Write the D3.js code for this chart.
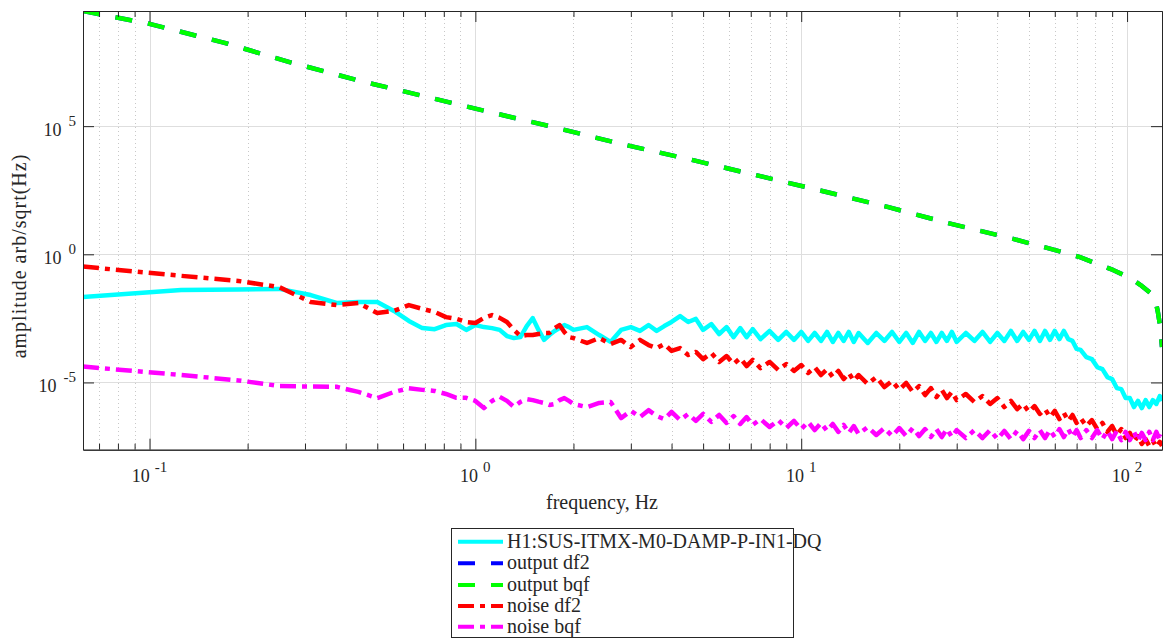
<!DOCTYPE html>
<html><head><meta charset="utf-8">
<script src="https://cdn.jsdelivr.net/npm/d3@7"></script>
<style>
body{margin:0;background:#fff;}
svg{display:block;}
text{font-family:"Liberation Serif","Times New Roman",serif;fill:#262626;}
</style>
</head><body>
<svg id="c" width="1169" height="640"></svg>
<script>
// ---- data (amplitudes stored as log10 exponents) ----
const freq = [0.0625,0.125,0.1875,0.25,0.3125,0.375,0.4375,0.5,0.5625,0.625,0.6875,0.75,0.8125,0.875,0.9375,1,1.0625,1.125,1.1875,1.25,1.3125,1.375,1.4375,1.5,1.5625,1.625,1.6875,1.75,1.8125,1.875,1.9375,2,
2.2,2.4,2.6,2.8,3,3.2,3.4,3.6,3.8,4,4.25,4.5,4.75,5,5.3,5.6,5.9,6.2,6.5,6.8,7.1,7.5,8,8.5,9,9.5,10,10.5,11,11.5,12,12.5,13,13.5,14,14.5,15,16,17,18,19,20,21,22,23,24,25,26,27,28,29,30,32,34,36,38,40,42,44,46,48,50,52,54,56,58,60,62,64,66,68,70,72,75,78,81,84,87,90,93,96,99,102,105,108,111,114,117,120,123,126,128];

const dqExp = [-1.67,-1.39,-1.37,-1.35,-1.59,-1.90,-1.86,-1.86,-2.21,-2.60,-2.88,-2.92,-2.76,-2.72,-2.95,-2.76,-2.84,-2.88,-2.95,-3.19,-3.27,-3.23,-2.80,-2.49,-2.95,-3.34,-3.15,-2.99,-2.88,-2.76,-2.84,-2.95,
-2.84,-3.15,-3.42,-2.95,-2.84,-2.99,-2.76,-2.99,-2.80,
-2.64,-2.41,-2.64,-2.52,
-2.95,-2.72,-3.11,-2.84,-3.23,-2.88,-3.23,-2.92,-3.31,
-2.99,-3.34,-3.03,-3.34,
-3.03,-3.38,-3.07,-3.38,-3.03,-3.42,-3.07,-3.38,-3.03,-3.42,-3.07,
-3.46,-3.07,-3.38,-3.03,-3.42,-3.07,-3.46,-3.03,-3.38,-3.07,-3.42,-3.07,-3.38,-3.03,-3.42,
-3.07,-3.38,-3.03,-3.42,-3.07,-3.38,-2.99,-3.38,-3.03,-3.34,-2.99,-3.38,-2.99,-3.34,-2.99,-3.31,-2.99,-3.31,-3.38,-3.69,-3.73,
-4.01,-4.09,-4.40,-4.48,-4.79,-4.87,-5.22,-5.26,-5.61,-5.61,-5.96,-5.72,-6.00,-5.69,-5.96,-5.69,-5.84,-5.53,
-5.72];

const noiseDf2Exp = [-0.48,-0.84,-1.04,-1.28,-1.86,-1.98,-1.90,-2.29,-2.21,-1.98,-2.13,-2.25,-2.45,-2.52,-2.64,-2.68,-2.48,-2.37,-2.48,-2.64,-2.95,-3.19,-3.15,-3.15,-3.11,-3.07,-3.07,-2.88,-2.76,-3.03,-3.23,-3.27,
-3.46,-3.27,-3.50,-3.34,-3.62,-3.34,-3.54,-3.66,-3.50,
-3.77,-3.66,-3.93,-3.81,
-4.09,-3.85,-4.20,-3.97,-4.28,-4.05,-4.36,-4.12,-4.44,
-4.20,-4.51,-4.28,-4.55,
-4.32,-4.63,-4.40,-4.71,-4.48,-4.79,-4.55,-4.87,-4.63,-4.94,-4.71,
-5.06,-4.79,-5.18,-4.94,-5.29,-5.02,-5.37,-5.14,-5.49,-5.22,-5.57,-5.29,-5.61,-5.37,-5.69,
-5.45,-5.76,-5.53,-5.84,-5.61,-5.96,-5.72,-6.04,-5.84,-6.15,-5.92,-6.23,-6.04,-6.35,-6.11,-6.43,-6.19,-6.50,-6.27,-6.58,-6.39,
-6.70,-6.47,-6.82,-6.58,-6.93,-6.70,-7.05,-6.82,-7.17,-6.97,-7.32,-7.09,-7.40,-7.21,-7.48,-7.28,-7.52,-7.32,
-7.48];

const noiseBqfExp = [-4.38,-4.71,-4.92,-5.14,-5.16,-5.17,-5.37,-5.61,-5.37,-5.23,-5.29,-5.33,-5.45,-5.60,-5.60,-5.72,-6.00,-5.72,-5.56,-5.72,-5.95,-5.76,-5.65,-5.69,-5.75,-5.80,-5.88,-5.84,-5.69,-5.61,-5.72,-5.84,
-5.96,-5.80,-5.76,-6.39,-6.11,-6.35,-6.08,-6.31,-6.43,
-6.15,-6.47,-6.23,-6.50,
-6.23,-6.54,-6.27,-6.58,-6.31,-6.62,-6.35,-6.66,-6.43,
-6.74,-6.47,-6.78,-6.50,
-6.82,-6.54,-6.86,-6.58,-6.89,-6.62,-6.93,-6.66,-6.97,-6.70,-7.01,
-6.74,-7.05,-6.78,-7.09,-6.78,-7.09,-6.78,-7.09,-6.82,-7.13,-6.82,-7.13,-6.82,-7.13,-6.86,
-7.17,-6.86,-7.17,-6.86,-7.21,-6.89,-7.21,-6.89,-7.21,-6.89,-7.17,-6.86,-7.17,-6.86,-7.13,-6.82,-7.13,-6.82,-7.13,-6.86,-7.17,
-6.86,-7.17,-6.86,-7.21,-6.89,-7.21,-6.89,-7.25,-6.93,-7.25,-6.93,-7.28,-6.97,-7.25,-6.93,-7.25,-6.93,-7.25,
-7.05];

const outFreq = [0.0625,0.1,0.17,0.269,0.432,0.689,1.107,1.78,2.81,4.49,7.21,11.6,18.4,28,44.7,56.8,71.7,90.5,102,110,119,122.5,124.3,126.2,128];
const outputDf2Exp = [9.49,8.99,8.25,7.50,6.80,6.18,5.55,4.93,4.30,3.72,3.10,2.47,1.85,1.23,0.60,0.25,-0.11,-0.61,-0.92,-1.20,-1.55,-1.86,-2.25,-2.76,-3.62];
const outputBqfExp = [9.49,8.99,8.25,7.50,6.80,6.18,5.55,4.93,4.30,3.72,3.10,2.47,1.85,1.23,0.60,0.25,-0.11,-0.61,-0.92,-1.20,-1.55,-1.86,-2.25,-2.76,-3.62];

const xMajor = [0.1, 1, 10, 100];
const xMajorLabels = ["-1", "0", "1", "2"];
const yMajor = [1e-5, 1, 1e5];
const yMajorLabels = ["-5", "0", "5"];
const legendNames = ["H1:SUS-ITMX-M0-DAMP-P-IN1-DQ", "output df2", "output bqf", "noise df2", "noise bqf"];
const xLabel = "frequency, Hz";
const yLabel = "amplitude arb/sqrt(Hz)";

// ---- chart ----
const svg = d3.select("#c");
const L = 83, R = 1162, T = 11, B = 449.7;
const x = d3.scaleLog().domain([0.0625, 128]).range([L, R]);
const y = d3.scaleLog().domain([Math.pow(10, -7.624), Math.pow(10, 9.493)]).range([B, T]);

const xMinor = [];
[0.01, 0.1, 1, 10, 100].forEach(d => { for (let k = 2; k <= 9; k++) { const v = d * k; if (v > 0.0625 && v < 128 && !xMajor.includes(v)) xMinor.push(v); } });

const grid = svg.append("g");
grid.selectAll(".gm").data(xMinor).join("line")
  .attr("x1", d => Math.round(x(d)) + 0.5).attr("x2", d => Math.round(x(d)) + 0.5)
  .attr("y1", T).attr("y2", B).attr("stroke", "#c8c8c8").attr("stroke-width", 1).attr("stroke-dasharray", "1,3");
grid.selectAll(".gx").data(xMajor).join("line")
  .attr("x1", d => Math.round(x(d)) + 0.5).attr("x2", d => Math.round(x(d)) + 0.5)
  .attr("y1", T).attr("y2", B).attr("stroke", "#dedede").attr("stroke-width", 1);
grid.selectAll(".gy").data(yMajor).join("line")
  .attr("x1", L).attr("x2", R)
  .attr("y1", d => Math.round(y(d)) + 0.5).attr("y2", d => Math.round(y(d)) + 0.5)
  .attr("stroke", "#dedede").attr("stroke-width", 1);

svg.append("clipPath").attr("id", "clip").append("rect").attr("x", L).attr("y", T).attr("width", R - L).attr("height", B - T);

const line = d3.line().x(d => x(d.f)).y(d => y(d.v));
function mk(fs, ex) { return fs.map((f, i) => ({ f: f, v: Math.pow(10, ex[i]) })); }

const series = [
  { name: legendNames[0], data: mk(freq, dqExp), color: "#00ffff", dash: null, w: 4.5 },
  { name: legendNames[1], data: mk(outFreq, outputDf2Exp), color: "#0000ff", dash: "17,16", w: 4.5 },
  { name: legendNames[2], data: mk(outFreq, outputBqfExp), color: "#00ff00", dash: "17,16", w: 4.5 },
  { name: legendNames[3], data: mk(freq, noiseDf2Exp), color: "#ff0000", dash: "16,6,5,6", w: 4.5 },
  { name: legendNames[4], data: mk(freq, noiseBqfExp), color: "#ff00ff", dash: "16,6,5,6", w: 4.5 }
];

const plot = svg.append("g").attr("clip-path", "url(#clip)");
series.forEach(s => {
  plot.append("path").datum(s.data).attr("d", line)
    .attr("fill", "none").attr("stroke", s.color).attr("stroke-width", s.w)
    .attr("stroke-linejoin", "round")
    .attr("stroke-dasharray", s.dash);
});

// axes
const axCol = "#262626";
function styleAxis(g) { g.selectAll("path,line").attr("stroke", axCol); g.selectAll("text").remove(); }
svg.append("g").attr("transform", `translate(0,${B})`).call(d3.axisBottom(x).tickValues(xMajor).tickSizeInner(-11).tickSizeOuter(0).tickFormat("")).call(styleAxis);
svg.append("g").attr("transform", `translate(0,${B})`).call(d3.axisBottom(x).tickValues(xMinor).tickSizeInner(-6).tickSizeOuter(0).tickFormat("")).call(styleAxis);
svg.append("g").attr("transform", `translate(0,${T})`).call(d3.axisTop(x).tickValues(xMajor).tickSizeInner(-11).tickSizeOuter(0).tickFormat("")).call(styleAxis);
svg.append("g").attr("transform", `translate(0,${T})`).call(d3.axisTop(x).tickValues(xMinor).tickSizeInner(-6).tickSizeOuter(0).tickFormat("")).call(styleAxis);
svg.append("g").attr("transform", `translate(${L},0)`).call(d3.axisLeft(y).tickValues(yMajor).tickSizeInner(-11).tickSizeOuter(0).tickFormat("")).call(styleAxis);
svg.append("g").attr("transform", `translate(${R},0)`).call(d3.axisRight(y).tickValues(yMajor).tickSizeInner(-11).tickSizeOuter(0).tickFormat("")).call(styleAxis);

// tick labels
xMajor.forEach((v, i) => {
  const t = svg.append("text").attr("x", x(v)).attr("y", 482).attr("text-anchor", "middle").attr("font-size", 18);
  t.append("tspan").text("10");
  t.append("tspan").attr("dx", 5).attr("dy", -10).attr("font-size", 15).text(xMajorLabels[i]);
});
yMajor.forEach((v, i) => {
  const t = svg.append("text").attr("x", 76).attr("y", y(v) + 10).attr("text-anchor", "end").attr("font-size", 18);
  t.append("tspan").text("10");
  t.append("tspan").attr("dx", 7).attr("dy", -10).attr("font-size", 15).text(yMajorLabels[i]);
});

svg.append("text").attr("x", 602).attr("y", 509).attr("text-anchor", "middle").attr("font-size", 20).text(xLabel);
svg.append("text").attr("transform", "translate(26,256) rotate(-90)").attr("text-anchor", "middle")
  .attr("font-size", 20).attr("letter-spacing", 1).text(yLabel);

// legend
const lg = svg.append("g");
lg.append("rect").attr("x", 451.5).attr("y", 528.5).attr("width", 342).attr("height", 109).attr("fill", "#fff").attr("stroke", axCol).attr("stroke-width", 1);
const ly = [541.7, 563.3, 585, 606, 626.7];
series.forEach((s, i) => {
  lg.append("line").attr("x1", 458).attr("x2", 503).attr("y1", ly[i]).attr("y2", ly[i])
    .attr("stroke", s.color).attr("stroke-width", 4).attr("stroke-dasharray", s.dash);
  lg.append("text").attr("x", 507).attr("y", ly[i] + 6).attr("font-size", 20).text(s.name);
});
</script>
</body></html>
